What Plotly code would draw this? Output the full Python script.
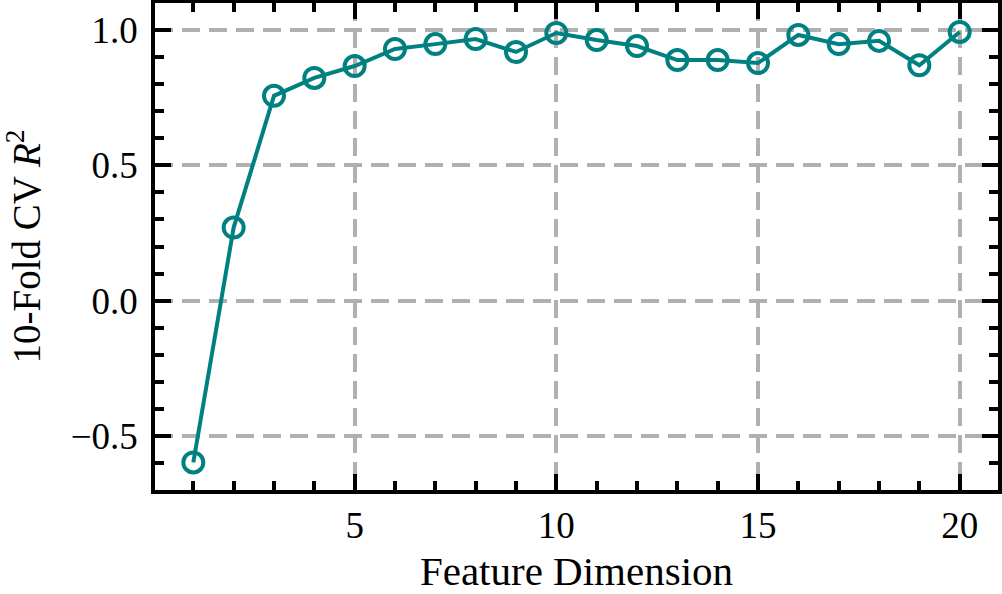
import plotly.graph_objects as go

# feature dimension vs 10-fold cv score
dims = list(range(1, 21))
r2 = [-0.598, 0.270, 0.757, 0.823, 0.867, 0.930, 0.948, 0.967, 0.919, 0.989,
      0.963, 0.941, 0.889, 0.889, 0.878, 0.982, 0.948, 0.960, 0.870, 0.993]

teal = "#008080"
font = "Liberation Serif"

fig = go.Figure()
fig.add_trace(go.Scatter(
    x=dims, y=r2, mode="lines+markers",
    line=dict(color=teal, width=4),
    marker=dict(symbol="circle-open", size=20, color=teal, line=dict(width=4)),
    showlegend=False,
))

axis_style = dict(
    showline=True, linecolor="black", linewidth=3.5, mirror="allticks",
    ticks="inside", ticklen=16, tickwidth=3.5, tickcolor="black",
    showgrid=True, gridcolor="#b0b0b0", gridwidth=3.5, griddash="18px,9px",
    zeroline=False, automargin=False,
    tickfont=dict(family=font, size=37, color="black"),
)

fig.update_xaxes(
    range=[0.05, 20.95], tickvals=[5, 10, 15, 20],
    minor=dict(dtick=1, tick0=0, ticks="inside", ticklen=9, tickwidth=3.5,
               tickcolor="black", showgrid=False),
    title=dict(text="Feature Dimension", font=dict(family=font, size=41, color="black"),
               standoff=21),
    **axis_style,
)
fig.update_yaxes(
    range=[-0.70, 1.10], tickvals=[-0.5, 0.0, 0.5, 1.0],
    ticktext=["\u22120.5", "0.0", "0.5", "1.0"],
    minor=dict(dtick=0.1, tick0=0, ticks="inside", ticklen=9, tickwidth=3.5,
               tickcolor="black", showgrid=False),
    ticklabelstandoff=6,
    title=dict(text="10-Fold CV <i>R</i><sup>2</sup>",
               font=dict(family=font, size=39, color="black"), standoff=22),
    **axis_style,
)

fig.update_layout(
    width=1002, height=594,
    margin=dict(l=155, r=4, t=3, b=104),
    plot_bgcolor="white", paper_bgcolor="white",
)

fig.write_html("out.html", config={"displayModeBar": False},
               post_script="document.body.style.margin='0';")
